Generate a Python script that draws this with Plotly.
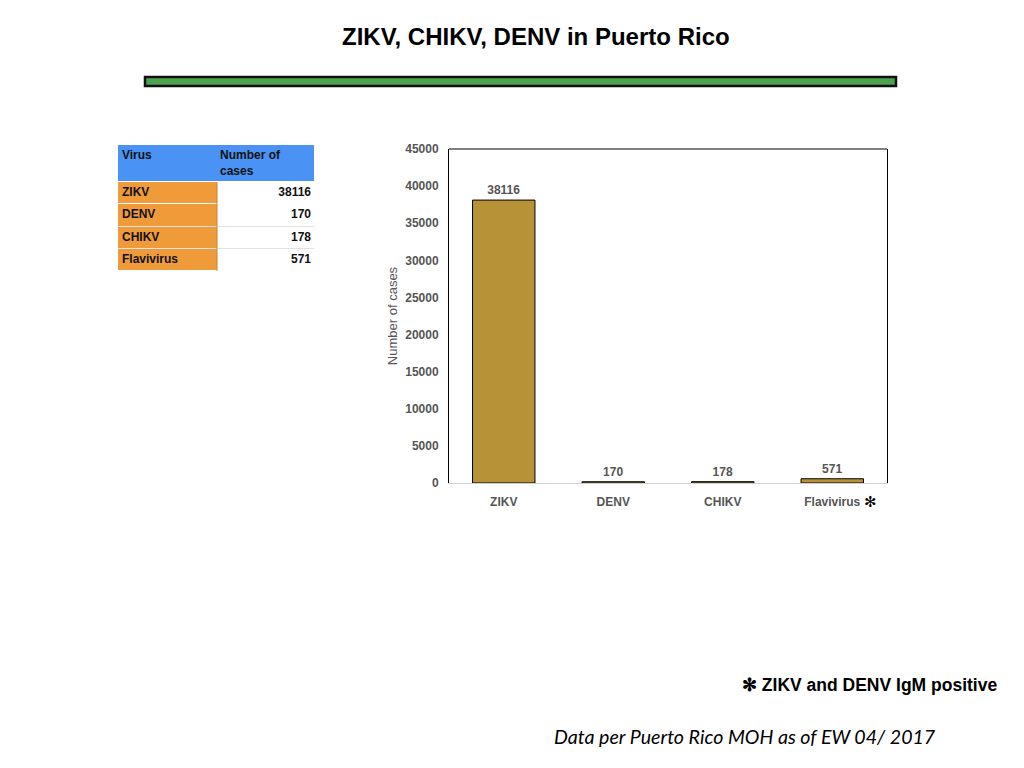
import plotly.graph_objects as go

# values
viruses = ['ZIKV', 'DENV', 'CHIKV', 'Flavivirus']
cases = [38116, 170, 178, 571]
y_ticks = [0, 5000, 10000, 15000, 20000, 25000, 30000, 35000, 40000, 45000]
table_header = ['Virus', 'Number of<br>cases']

# page body keeps an 8px margin, so the figure is shrunk to fit the window
W, H, OFF = 1016, 760, 8
BAR = '#B79236'
GREY = '#555555'
TFONT = dict(family='Liberation Sans', size=12, color='#111111')


def px(x):
    return (x - OFF) / W


def py(y):
    return 1 - (y - OFF) / H


# table grid: header row 37px, body rows ~22px, columns 99px and 97px
head_h, row_h = 37, 22.25
row_edges = [0, head_h] + [head_h + row_h * (i + 1) for i in range(len(viruses))]
col_edges = [0, 99, 196]
row_mid = [(row_edges[i + 1] + row_edges[i]) / 2 for i in range(1, len(row_edges) - 1)]

fig = go.Figure()

# table cells: 2 = header blue, 1 = orange label column, 0 = white
z = [[2, 2]] + [[1, 0] for _ in viruses]
fig.add_trace(go.Heatmap(
    x=col_edges, y=row_edges, z=z,
    xaxis='x2', yaxis='y2',
    colorscale=[[0, 'white'], [0.5, '#F09B3A'], [1, '#4A93F5']],
    zmin=0, zmax=2, showscale=False, hoverinfo='skip',
    ygap=1,
))
# virus names, left aligned
fig.add_trace(go.Scatter(
    x=[4] * len(viruses), y=row_mid, xaxis='x2', yaxis='y2',
    mode='text', text=['<b>%s</b>' % v for v in viruses],
    textposition='middle right', textfont=TFONT,
    showlegend=False, hoverinfo='skip',
))
# case counts, right aligned
fig.add_trace(go.Scatter(
    x=[col_edges[-1] - 3] * len(cases), y=row_mid, xaxis='x2', yaxis='y2',
    mode='text', text=['<b>%d</b>' % c for c in cases],
    textposition='middle left', textfont=TFONT,
    showlegend=False, hoverinfo='skip',
))
# header text
fig.add_trace(go.Scatter(
    x=[4, col_edges[1] + 3], y=[5, 5], xaxis='x2', yaxis='y2',
    mode='text', text=['<b>%s</b>' % h for h in table_header],
    textposition='bottom right', textfont=TFONT,
    showlegend=False, hoverinfo='skip',
))

fig.add_trace(go.Bar(
    x=viruses,
    y=cases,
    width=0.57,
    marker=dict(color=BAR, line=dict(color='black', width=1)),
    text=[str(c) for c in cases],
    textposition='outside',
    textfont=dict(family='Liberation Sans', size=12, color=GREY, weight='bold'),
    cliponaxis=False,
    showlegend=False,
))

fig.update_layout(
    width=W, height=H,
    margin=dict(l=0, r=0, t=0, b=0, autoexpand=False),
    paper_bgcolor='white',
    plot_bgcolor='white',
    font=dict(family='Liberation Sans'),
    xaxis=dict(
        domain=[px(449), px(887)],
        automargin=False,
        showline=True, linecolor='#D0D0D0', linewidth=1,
        ticks='', showgrid=False,
        ticklabelstandoff=8,
        tickfont=dict(size=12, color=GREY, weight='bold'),
    ),
    yaxis=dict(
        domain=[py(483), py(149)],
        automargin=False,
        range=[0, 45000],
        tickvals=y_ticks,
        ticktext=[str(t) for t in y_ticks],
        showgrid=False, zeroline=False,
        showline=True, linecolor='black', linewidth=1, mirror=True,
        ticks='',
        ticklabelstandoff=7,
        tickfont=dict(size=12, color=GREY, weight='bold'),
        title=dict(text='Number of cases', standoff=4,
                   font=dict(size=13, color=GREY)),
    ),
    xaxis2=dict(
        domain=[px(118), px(314)], anchor='y2', automargin=False,
        range=[col_edges[0], col_edges[-1]],
        showgrid=False, zeroline=False, showticklabels=False, ticks='',
    ),
    yaxis2=dict(
        domain=[py(271), py(145)], anchor='x2', automargin=False,
        range=[row_edges[-1], row_edges[0]],
        tickvals=row_edges[1:-1], showgrid=True, gridcolor='#E2E2E2',
        zeroline=False, showticklabels=False, ticks='',
    ),
    bargap=0.43,
)

# top border of the plot area
fig.add_shape(type='line', xref='x domain', yref='y domain',
              x0=0, x1=1, y0=1, y1=1, line=dict(color='black', width=1))
# darker edge between the two table columns
fig.add_shape(type='line', xref='x2', yref='y2',
              x0=col_edges[1], x1=col_edges[1], y0=row_edges[1], y1=row_edges[-1],
              line=dict(color='#C9822F', width=1))

# green rule under the title
fig.add_shape(type='rect', xref='paper', yref='paper',
              x0=px(145), x1=px(896), y0=py(86), y1=py(77),
              fillcolor='#4DA24D', line=dict(color='#111111', width=2.5))

fig.add_annotation(text='<b>ZIKV, CHIKV, DENV in Puerto Rico</b>',
                   x=px(536), y=py(37), xref='paper', yref='paper',
                   xanchor='center', yanchor='middle', showarrow=False,
                   font=dict(family='Liberation Sans', size=24, color='black'))

fig.add_annotation(text='✻', x=px(870), y=py(502), xref='paper', yref='paper',
                   xanchor='center', yanchor='middle', showarrow=False,
                   font=dict(family='DejaVu Sans', size=15, color='black'))

fig.add_annotation(text='<b>✻ ZIKV and DENV IgM positive</b>',
                   x=px(999), y=py(685), xref='paper', yref='paper',
                   xanchor='right', yanchor='middle', showarrow=False,
                   font=dict(family='Liberation Sans', size=17.5, color='black'))

fig.add_annotation(text='<i>Data per Puerto Rico MOH as of EW 04/ 2017</i>',
                   x=px(552), y=py(736), xref='paper', yref='paper',
                   xanchor='left', yanchor='middle', showarrow=False,
                   font=dict(family='Lato', size=19.6, color='black'))

fig.write_html('out.html')
